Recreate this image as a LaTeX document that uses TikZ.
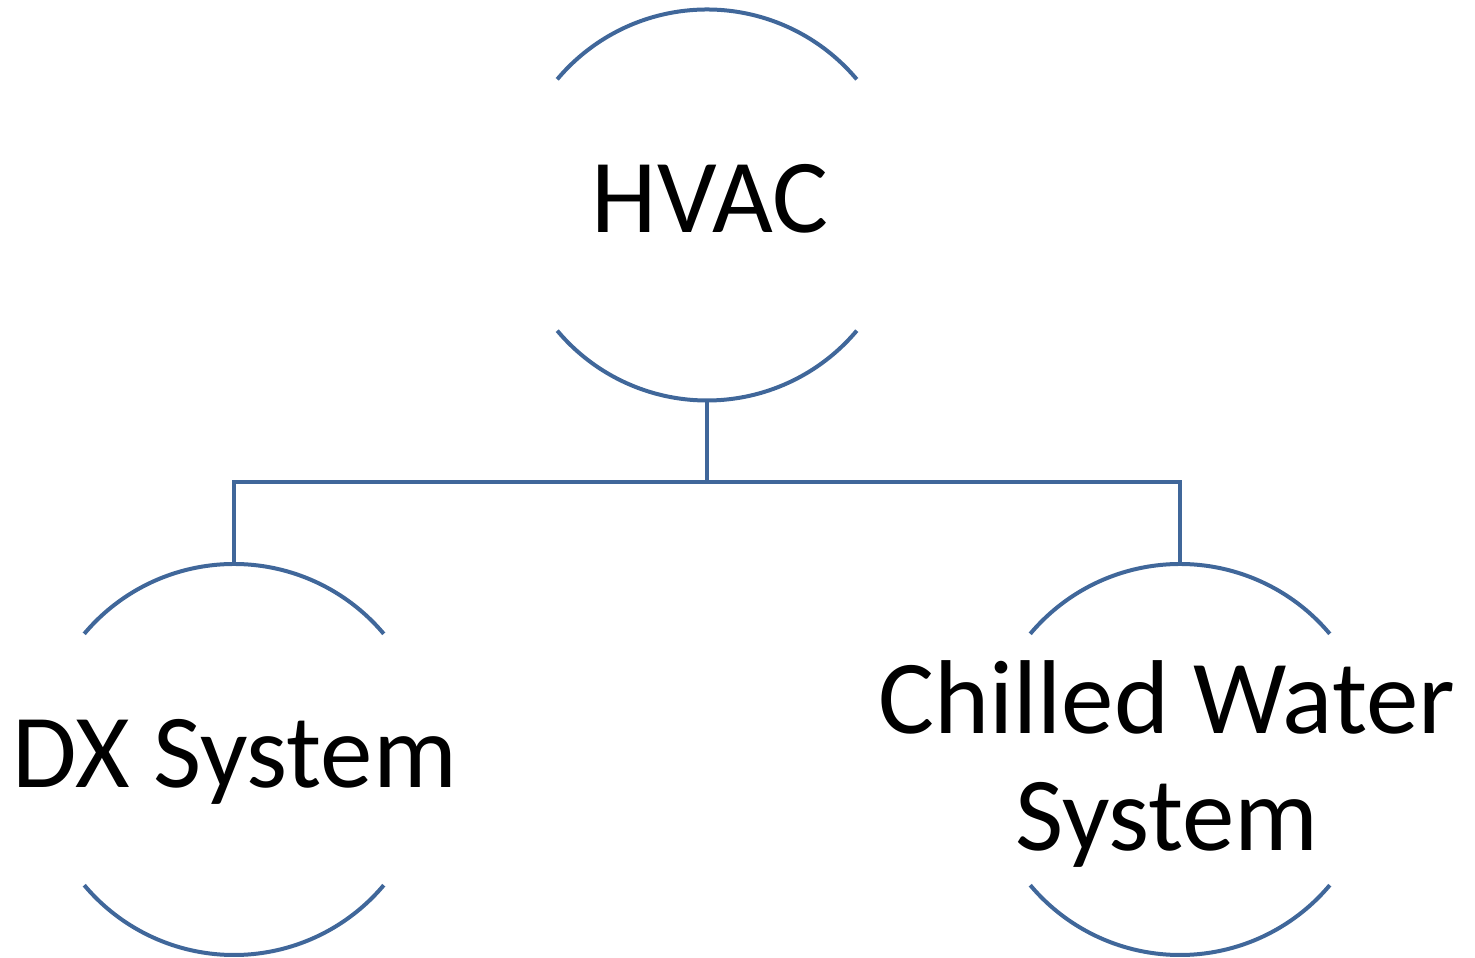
\documentclass[tikz,border=0pt]{standalone}
\usepackage{fontspec}
\setmainfont{Carlito}
\definecolor{arcblue}{RGB}{64,103,154}
\begin{document}
\begin{tikzpicture}[x=1pt,y=1pt,
  ring/.style={circle,inner sep=0pt,outer sep=0pt,minimum size=391pt},
  ringline/.style={draw=arcblue,line width=4pt},
  lbl/.style={inner sep=0pt,align=center,font=\fontsize{105}{117}\selectfont}]
\useasboundingbox (0,0) rectangle (1475,958);
% circles (shape only)
\node[ring] (hvac) at (707,753) {};
\node[ring] (dx) at (234,198.5) {};
\node[ring] (cw) at (1180,198.5) {};
% arcs
\foreach \n in {hvac,dx,cw}{
  \draw[ringline] (\n.40) arc[start angle=40,end angle=140,radius=195.5pt];
  \draw[ringline] (\n.220) arc[start angle=220,end angle=320,radius=195.5pt];
}
% labels
\node[lbl,anchor=base] (hvact) at (710,725) {HVAC};
\node[lbl,anchor=base] (dxt) at (234.5,170) {DX System};
\node[lbl,anchor=center] (cwt) at (1167,194) {Chilled Water\\System};
% connectors
\coordinate (bus) at (707,476);
\draw[ringline] (hvac.south) -- (bus);
\draw[ringline] (dx.north) |- (bus) -| (cw.north);
\end{tikzpicture}
\end{document}
